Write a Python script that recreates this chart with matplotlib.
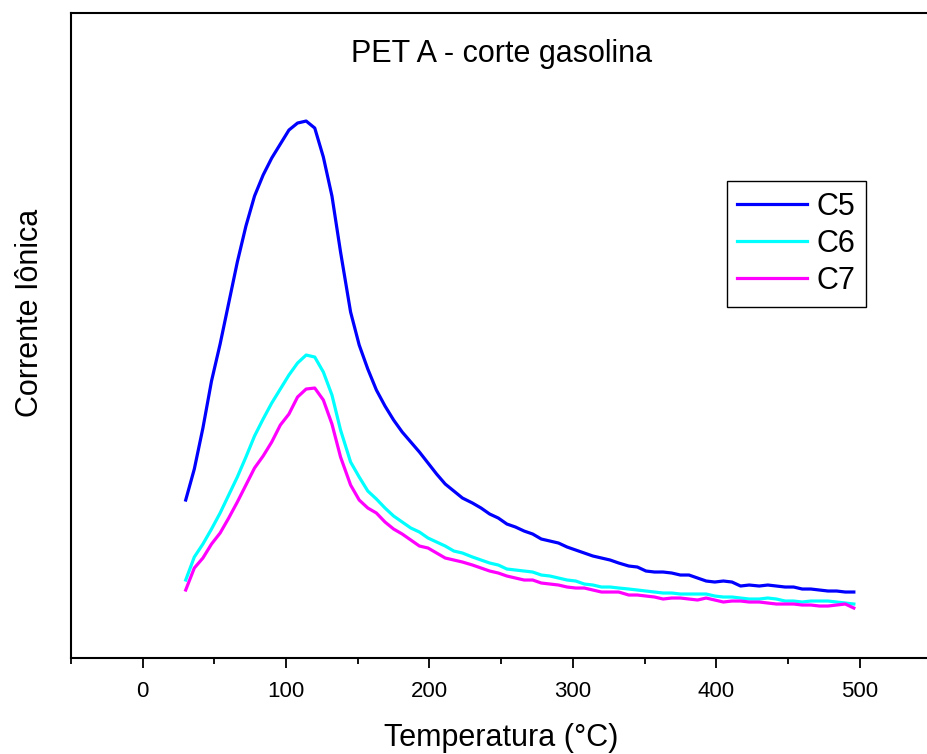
import matplotlib
matplotlib.use("Agg")
import matplotlib.pyplot as plt
from matplotlib.ticker import MultipleLocator

plt.rcParams['font.family'] = ['Liberation Sans', 'DejaVu Sans']

# Temperature (°C) of each sample
temperatura = [30, 36, 42, 48, 54, 60, 66, 72, 78, 84,
               90, 96, 102, 108, 114, 120, 126, 132, 138, 145,
               151, 157, 163, 169, 175, 181, 187, 193, 199, 205,
               211, 217, 223, 230, 236, 242, 248, 254, 260, 266,
               272, 278, 284, 290, 296, 302, 308, 314, 320, 326,
               332, 339, 345, 351, 357, 363, 369, 375, 381, 387,
               393, 399, 405, 411, 417, 423, 430, 436, 442, 448,
               454, 460, 466, 472, 478, 484, 490, 496]

# ion current (arbitrary units)
c5 = [158, 189, 230, 277, 314, 355, 396, 432, 462, 483,
      500, 514, 528, 535, 537, 530, 501, 462, 406, 346,
      313, 289, 268, 252, 238, 226, 216, 206, 195, 184,
      174, 167, 160, 155, 150, 144, 140, 134, 131, 127,
      124, 119, 117, 115, 111, 108, 105, 102, 100, 98,
      95, 92, 91, 87, 86, 86, 85, 83, 83, 80,
      77, 76, 77, 76, 72, 73, 72, 73, 72, 71,
      71, 69, 69, 68, 67, 67, 66, 66]

c6 = [78, 101, 114, 129, 145, 163, 181, 201, 222, 239,
      255, 269, 283, 295, 303, 301, 286, 263, 228, 196,
      181, 167, 159, 150, 142, 136, 130, 126, 120, 116,
      112, 107, 105, 101, 98, 95, 93, 89, 88, 87,
      86, 83, 82, 80, 78, 77, 74, 73, 71, 71,
      70, 69, 68, 67, 66, 65, 65, 64, 64, 64,
      64, 62, 61, 61, 60, 59, 59, 60, 59, 57,
      57, 56, 57, 57, 57, 56, 55, 54]

c7 = [68, 90, 100, 114, 125, 140, 156, 173, 190, 202,
      216, 233, 244, 261, 269, 270, 258, 234, 201, 173,
      158, 150, 145, 136, 129, 124, 118, 112, 110, 105,
      100, 98, 96, 93, 90, 87, 85, 82, 80, 78,
      78, 75, 74, 73, 71, 70, 70, 68, 66, 66,
      66, 63, 63, 62, 61, 59, 60, 60, 59, 58,
      60, 58, 56, 57, 57, 56, 56, 55, 54, 54,
      54, 53, 53, 52, 52, 53, 54, 50]

fig = plt.figure(figsize=(9.27, 7.54), dpi=100)
ax = fig.add_axes([0.0766, 0.1273, 0.928, 0.8554])

ax.plot(temperatura, c5, color='#0000FF', lw=2.3, label='C5')
ax.plot(temperatura, c6, color='#00FFFF', lw=2.3, label='C6')
ax.plot(temperatura, c7, color='#FF00FF', lw=2.3, label='C7')

ax.set_xlim(-50, 550)
ax.set_ylim(0, 645)
ax.xaxis.set_major_locator(MultipleLocator(100))
ax.xaxis.set_minor_locator(MultipleLocator(50))
ax.set_yticks([])
ax.tick_params(axis='x', which='major', direction='out', length=7.5, width=1.3,
               labelsize=16, pad=9)
ax.tick_params(axis='x', which='minor', direction='out', length=4, width=1.3)
for s in ax.spines.values():
    s.set_linewidth(1.5)

ax.set_xlabel('Temperatura (°C)', fontsize=22, labelpad=15)
ax.set_ylabel('Corrente Iônica', fontsize=22)
ax.yaxis.set_label_coords(-0.030, 0.535)
ax.text(0.5, 0.936, 'PET A - corte gasolina', transform=ax.transAxes,
        ha='center', va='center', fontsize=22)

leg = ax.legend(loc='upper left', bbox_to_anchor=(0.762, 0.7395), fontsize=22,
                handlelength=2.3, handletextpad=0.3, labelspacing=0.23,
                borderpad=0.35, borderaxespad=0, fancybox=False, framealpha=1)
leg.get_frame().set_edgecolor('black')
leg.get_frame().set_linewidth(1.0)

fig.savefig('out.png', dpi=100)
